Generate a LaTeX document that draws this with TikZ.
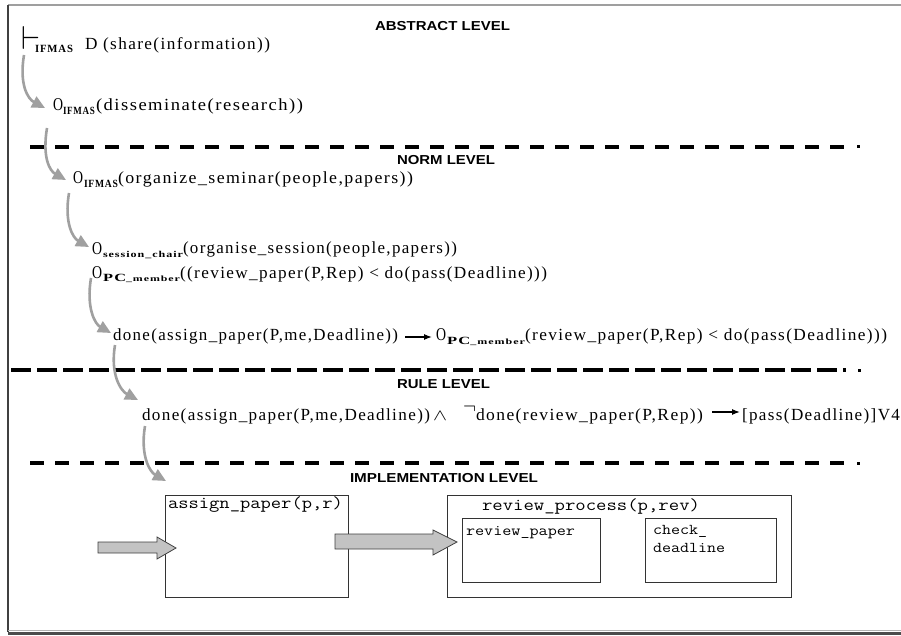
\documentclass[tikz,border=0pt]{standalone}
\usepackage{fontspec}
\usepackage{graphicx}
\setmainfont{Liberation Serif}
\newfontfamily\serifls{Liberation Serif}[LetterSpace=8]
\newfontfamily\hdrfont{Liberation Sans}
\usetikzlibrary{arrows.meta}
\newcommand\fitw[2]{\resizebox{#1pt}{\height}{#2}}
\newcommand\mtxt[2]{\fitw{#1}{\fontsize{17}{20}\serifls #2}}
\newcommand\subtxt[2]{\fitw{#1}{\fontsize{11}{12}\serifls\bfseries #2}}
\newcommand\hdrtxt[2]{\fitw{#1}{\fontsize{13}{14}\hdrfont\bfseries #2}}
\newcommand\monotxt[3]{\fitw{#1}{\fontsize{#2}{#2}\ttfamily #3}}
\newcommand\obl{\fitw{10}{\fontsize{18}{18}\selectfont O}}
\definecolor{arrgray}{RGB}{160,160,160}
\definecolor{blockgray}{RGB}{195,195,195}
\begin{document}
\begin{tikzpicture}[x=1pt,y=-1pt,
  seg/.style={anchor=base west, inner sep=0pt, outer sep=0pt, text=black},
  levelline/.style={line width=3.5pt, dash pattern=on 14pt off 11pt},
  ruleline/.style={line width=3.5pt, dash pattern=on 20pt off 6pt},
  curvearrow/.style={draw=arrgray, line width=2.6pt, -{Triangle[length=13pt,width=12pt]}},
  txtarrow/.style={line width=1.3pt, -{Latex[length=8pt,width=6pt]}},
  procbox/.style={draw=black!80, line width=1.2pt, anchor=north west, inner sep=0pt},
  blockarrow/.style={fill=blockgray, draw=black!75, line width=0.8pt}]
\useasboundingbox (0,0) rectangle (901,636);
\fill[white] (0,0) rectangle (901,636);
% frame
\draw[gray!75, line width=2pt] (8,5) -- (905,5);
\draw[black!75, line width=1.5pt] (8,5) -- (8,632);
\draw[gray!60, line width=1pt] (8,630.5) -- (905,630.5);
\draw[black!70, line width=2.6pt] (8,633.5) -- (905,633.5);

% level separators
\draw[levelline] (30,147) -- (850,147);
\fill (856.5,145.5) rectangle (859.5,148.5);
\draw[ruleline] (11,370) -- (846,370);
\fill (857.5,368.5) rectangle (860.5,371.5);
\draw[levelline] (30,463) -- (850,463);
\fill (856.5,461.5) rectangle (859.5,464.5);

% level headers
\node[seg] (habs) at (375,31) {\hdrtxt{135}{ABSTRACT LEVEL}};
\node[seg] (hnorm) at (397,165) {\hdrtxt{98}{NORM LEVEL}};
\node[seg] (hrule) at (397,388) {\hdrtxt{93}{RULE LEVEL}};
\node[seg] (himpl) at (350,482) {\hdrtxt{188}{IMPLEMENTATION LEVEL}};

% line 1
\node[seg] (t1) at (21,50) {\resizebox{19pt}{23pt}{$\vdash$}};
\node[seg] (s1) at (35,53) {\subtxt{38}{IFMAS}};
\node[seg] (f1) at (85,50) {\mtxt{185}{D (share(information))}};
% line 2
\node[seg] (o2) at (53,111) {\obl};
\node[seg] (s2) at (63,115) {\subtxt{32}{IFMAS}};
\node[seg] (f2) at (96,111) {\mtxt{207}{(disseminate(research))}};
% line 3
\node[seg] (o3) at (73,184) {\obl};
\node[seg] (s3) at (84,188) {\subtxt{34}{IFMAS}};
\node[seg] (f3) at (118,184) {\mtxt{295}{(organize\_seminar(people,papers))}};
% line 4
\node[seg] (o4) at (92,254) {\obl};
\node[seg] (s4) at (103,257) {\fitw{80}{\fontsize{9}{10}\serifls\bfseries session\_chair}};
\node[seg] (f4) at (183,254) {\mtxt{274}{(organise\_session(people,papers))}};
% line 5
\node[seg] (o5) at (92,278) {\obl};
\node[seg] (s5) at (103,281) {\fitw{77}{\fontsize{11}{12}\serifls\bfseries PC{\fontsize{8}{9}\selectfont\_member}}};
\node[seg] (f5) at (180,278) {\mtxt{367}{((review\_paper(P,Rep) < do(pass(Deadline)))}};
% line 6
\node[seg] (d6) at (113,340) {\mtxt{285}{done(assign\_paper(P,me,Deadline))}};
\node[seg] (o6) at (436,340) {\obl};
\node[seg] (s6) at (447,344) {\fitw{78}{\fontsize{11}{12}\serifls\bfseries PC{\fontsize{8}{9}\selectfont\_member}}};
\node[seg] (f6) at (525,340) {\mtxt{362}{(review\_paper(P,Rep) < do(pass(Deadline)))}};
\draw[txtarrow] ([xshift=7pt,yshift=3pt]d6.base east) -- ([xshift=-4pt,yshift=3pt]o6.base west);
% line 7
\node[seg] (d7) at (142,420) {\mtxt{288}{done(assign\_paper(P,me,Deadline))}};
\node[seg] (w7) at (433,420) {\resizebox{14pt}{9pt}{$\wedge$}};
\node[seg] (n7) at (463,413) {\resizebox{13pt}{9pt}{$\neg$}};
\node[seg] (r7) at (476,420) {\mtxt{227}{done(review\_paper(P,Rep))}};
\node[seg] (p7) at (742,420) {\mtxt{158}{[pass(Deadline)]V4}};
\draw[txtarrow] ([xshift=9pt,yshift=8pt]r7.base east) -- ([xshift=-2pt,yshift=8pt]p7.base west);

% curved derivation arrows
\coordinate (c1s) at (24,55);  \coordinate (c1e) at (45,108);
\coordinate (c2s) at (47,128); \coordinate (c2e) at (66,180);
\coordinate (c3s) at (69,193); \coordinate (c3e) at (89,247);
\coordinate (c4s) at (91,278); \coordinate (c4e) at (111,333);
\coordinate (c5s) at (115,345);\coordinate (c5e) at (138,400);
\coordinate (c6s) at (145,426);\coordinate (c6e) at (166,481);
\draw[curvearrow] (c1s) .. controls +(-5,30) and +(-17,-9) .. (c1e);
\draw[curvearrow] (c2s) .. controls +(-5,30) and +(-16,-9) .. (c2e);
\draw[curvearrow] (c3s) .. controls +(-5,30) and +(-16,-9) .. (c3e);
\draw[curvearrow] (c4s) .. controls +(-5,30) and +(-16,-9) .. (c4e);
\draw[curvearrow] (c5s) .. controls +(-5,30) and +(-17,-9) .. (c5e);
\draw[curvearrow] (c6s) .. controls +(-5,30) and +(-16,-9) .. (c6e);

% implementation boxes
\node[procbox, minimum width=183pt, minimum height=102pt] (ap) at (165,495) {};
\node[procbox, minimum width=344pt, minimum height=102pt] (rp) at (447,495) {};
\node[procbox, minimum width=138pt, minimum height=64pt] (rpp) at (462,518) {};
\node[procbox, minimum width=131pt, minimum height=64pt] (cd) at (645,518) {};
\node[seg] (apl) at (168,508) {\monotxt{175}{17}{assign\_paper(p,r)}};
\node[seg] (rpl) at (482,510) {\monotxt{218}{17}{review\_process(p,rev)}};
\node[seg] (rppl) at (466,535) {\monotxt{109}{15}{review\_paper}};
\node[seg] (cdl1) at (653,534) {\monotxt{54}{15}{check\_}};
\node[seg] (cdl2) at (653,552) {\monotxt{72}{15}{deadline}};

% block arrows
\draw[blockarrow] (98,542) -- (157,542) -- (157,537) -- (176,548) -- (157,559) -- (157,553) -- (98,553) -- cycle;
\draw[blockarrow] (335,534) -- (433,534) -- (433,530) -- (457,542) -- (433,555) -- (433,549) -- (335,549) -- cycle;
\end{tikzpicture}
\end{document}
